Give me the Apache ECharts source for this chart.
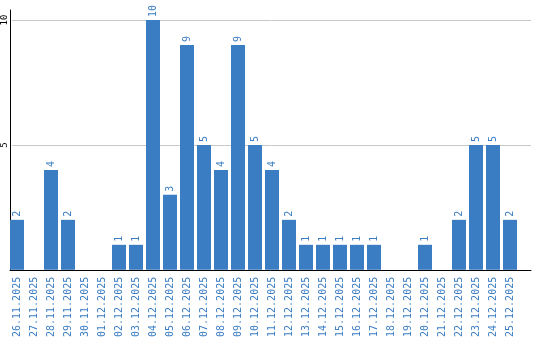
<!DOCTYPE html>
<html>
<head>
<meta charset="utf-8">
<script src="https://cdn.jsdelivr.net/npm/echarts@6/dist/echarts.min.js"></script>
<style>html,body{margin:0;padding:0;background:#fff}#c{width:540px;height:340px}</style>
</head>
<body>
<div id="c"></div>
<script>
const categories = ['26.11.2025','27.11.2025','28.11.2025','29.11.2025','30.11.2025','01.12.2025','02.12.2025','03.12.2025','04.12.2025','05.12.2025','06.12.2025','07.12.2025','08.12.2025','09.12.2025','10.12.2025','11.12.2025','12.12.2025','13.12.2025','14.12.2025','15.12.2025','16.12.2025','17.12.2025','18.12.2025','19.12.2025','20.12.2025','21.12.2025','22.12.2025','23.12.2025','24.12.2025','25.12.2025'];
const values = [2,0,4,2,0,0,1,1,10,3,9,5,4,9,5,4,2,1,1,1,1,1,0,0,1,0,2,5,5,2];
const yMin = 0, yMax = 10, yStep = 5;

const blue = '#3b7dc3';
const mono = 'DejaVu Sans Mono';
const chart = echarts.init(document.getElementById('c'), null, {renderer:'canvas'});
chart.setOption({
  animation: false,
  grid: [
    {left: 10, right: 9, top: 20, bottom: 70},
    {left: 10, right: 9, top: 10, bottom: 70},
    {left: 8.5, width: 510, top: 20, bottom: 70}
  ],
  xAxis: [
    {gridIndex: 0, type: 'value', show: false},
    {gridIndex: 1, type: 'value', min: 0, max: 1, axisLine: {show: true, lineStyle: {color: '#000', width: 1}}, axisTick: {show: false}, axisLabel: {show: false}, splitLine: {show: false}},
    {gridIndex: 2, type: 'category', data: categories, axisLine: {show: false}, axisTick: {show: false},
     axisLabel: {rotate: 90, interval: 0, color: blue, fontFamily: mono, fontSize: 10, margin: 7}}
  ],
  yAxis: [
    {gridIndex: 0, type: 'value', min: yMin, max: yMax, interval: yStep, axisLine: {show: false}, axisTick: {show: false},
     axisLabel: {rotate: 90, color: '#000', fontFamily: mono, fontSize: 9, margin: 3, showMinLabel: false},
     splitLine: {show: true, lineStyle: {color: '#c8c8c8', width: 1}}},
    {gridIndex: 1, type: 'value', min: 0, max: 1, axisLine: {show: true, lineStyle: {color: '#000', width: 1}}, axisTick: {show: false}, axisLabel: {show: false}, splitLine: {show: false}},
    {gridIndex: 2, type: 'value', min: yMin, max: yMax, show: false}
  ],
  series: [{
    type: 'bar', xAxisIndex: 2, yAxisIndex: 2, data: values, barWidth: 14,
    itemStyle: {color: blue},
    label: {show: true, position: 'top', rotate: 90, align: 'left', verticalAlign: 'middle', distance: 3,
      color: blue, fontFamily: mono, fontSize: 10,
      formatter: p => p.value ? String(p.value) : ''}
  }]
});
</script>
</body>
</html>
